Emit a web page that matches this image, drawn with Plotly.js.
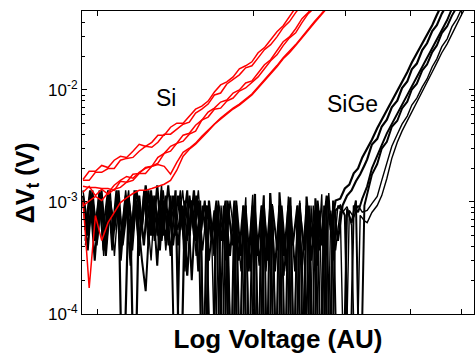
<!DOCTYPE html>
<html>
<head>
<meta charset="utf-8">
<script src="https://cdn.plot.ly/plotly-3.0.1.min.js"></script>
<style>html,body{margin:0;padding:0;background:#fff;}#chart{width:475px;height:356px;}</style>
</head>
<body>
<div id="chart"></div>
<script>
// x values (log voltage, arbitrary units) for the noise floor of the SiGe curves (two sampling grids)
var floorXA = [0.94,0.96,0.98,1.00,1.02,1.04,1.06,1.08,1.10,1.12,1.15,1.17,1.19,1.22,1.24,1.27,1.29,1.32,1.34,1.37,
  1.40,1.43,1.46,1.49,1.52,1.55,1.58,1.61,1.64,1.68,1.71,1.75,1.78,1.82,1.85,1.89,1.93,1.97,2.01,2.05,
  2.09,2.13,2.17,2.22,2.26,2.31,2.35,2.40,2.45,2.50,2.55,2.60,2.65,2.70,2.76,2.81,2.87,2.93,2.99,3.05,
  3.11,3.17,3.23];
var floorXB = [0.95,0.97,0.99,1.01,1.03,1.05,1.07,1.09,1.11,1.135,1.16,1.18,1.205,1.23,1.255,1.28,1.305,1.33,1.355,1.385,
  1.415,1.445,1.475,1.505,1.535,1.565,1.595,1.625,1.66,1.695,1.73,1.765,1.80,1.835,1.87,1.91,1.95,1.99,2.03,2.07,
  2.11,2.15,2.195,2.24,2.285,2.33,2.375,2.425,2.475,2.525,2.575,2.625,2.675,2.73,2.785,2.84,2.90,2.96,3.02,3.08,
  3.14,3.20,3.26];
// x values for the rising part of the SiGe curves
var riseX = [3.30,3.37,3.45,3.52,3.60,3.68,3.77,3.85,3.94,4.02,4.11,4.21,4.30,4.40,4.49,4.59,4.70,4.80,4.91,5.02,5.13,5.25];

// SiGe (black) curves: noise floor
var sige1Floor = [1.14e-3,5.0e-4,1.03e-3,5.6e-4,1.27e-3,4.1e-4,9.3e-4,6.2e-4,1.14e-3,1e-5,
  1.03e-3,5.6e-4,1.27e-3,6.2e-4,1.41e-3,5.0e-4,1.14e-3,3.7e-4,1.03e-3,5.6e-4,
  1.14e-3,4.1e-4,9.3e-4,2.2e-4,1.03e-3,4.5e-4,8.4e-4,1e-5,1.03e-3,3.3e-4,
  9.3e-4,1e-5,1.03e-3,4.1e-4,9.3e-4,1e-5,8.4e-4,2.4e-4,1.18e-3,1e-5,
  9.3e-4,3.0e-4,8.4e-4,1e-5,9.3e-4,2.7e-4,1.10e-3,1e-5,8.4e-4,3.7e-4,
  9.3e-4,1e-5,1.03e-3,4.1e-4,1.14e-3,5.6e-4,1.03e-3,
  1.07e-3,1.32e-3,1.43e-3,1.80e-3,1.99e-3,2.50e-3];
var sige2Floor = [5.6e-4,1.27e-3,4.5e-4,1.14e-3,3.7e-4,1.03e-3,5.0e-4,1.27e-3,3.0e-4,1.03e-3,
  5.6e-4,1e-5,1.14e-3,4.1e-4,1.27e-3,5.0e-4,1.41e-3,4.5e-4,1.14e-3,3.3e-4,
  1.27e-3,1e-5,1.03e-3,5.0e-4,1.27e-3,2.4e-4,9.3e-4,4.1e-4,1e-5,9.3e-4,
  4.5e-4,1.03e-3,1e-5,8.4e-4,3.0e-4,9.3e-4,1e-5,8.4e-4,3.3e-4,9.3e-4,
  1e-5,1.20e-3,2.4e-4,9.3e-4,1e-5,8.4e-4,4.1e-4,9.3e-4,1e-5,1.12e-3,
  3.0e-4,8.4e-4,1e-5,9.3e-4,1e-5,1.03e-3,4.5e-4,
  9.3e-4,1.14e-3,1.27e-3,1.53e-3,1.77e-3,2.12e-3];
var sige3Floor = [1.03e-3,3.7e-4,1.27e-3,4.5e-4,1.14e-3,3.3e-4,1.03e-3,5.6e-4,1.27e-3,4.1e-4,
  1.14e-3,5.0e-4,1.03e-3,3.0e-4,1.6e-4,1.27e-3,4.5e-4,1.03e-3,5.0e-4,1.41e-3,
  4.1e-4,1.14e-3,5.6e-4,1.27e-3,2.0e-4,1.14e-3,5.0e-4,1.03e-3,3.0e-4,8.4e-4,
  1e-5,9.3e-4,4.1e-4,1e-5,1.03e-3,3.3e-4,9.3e-4,1e-5,8.4e-4,2.7e-4,
  1.15e-3,1e-5,9.3e-4,3.7e-4,8.4e-4,1e-5,9.3e-4,2.4e-4,9.8e-4,1e-5,
  8.4e-4,4.1e-4,9.3e-4,1e-5,9.3e-4,1e-5,8.4e-4,
  9.3e-4,7.6e-4,1e-5,9.3e-4,8.1e-4,1.07e-3];
var sige4Floor = [4.5e-4,1.14e-3,3.0e-4,1.03e-3,6.2e-4,1.27e-3,3.7e-4,1.03e-3,4.5e-4,1.14e-3,
  2.7e-4,1.27e-3,4.1e-4,1.14e-3,5.6e-4,1.03e-3,2.7e-4,1.27e-3,4.5e-4,1.14e-3,
  1e-5,1.03e-3,3.7e-4,1.14e-3,5.0e-4,1.03e-3,1e-5,9.3e-4,4.5e-4,1.03e-3,
  1e-5,8.4e-4,3.3e-4,1.03e-3,1e-5,9.3e-4,2.4e-4,9.3e-4,1e-5,8.4e-4,
  3.0e-4,9.3e-4,1e-5,1.22e-3,3.3e-4,9.3e-4,1e-5,8.4e-4,2.7e-4,9.3e-4,
  1e-5,1.08e-3,3.7e-4,8.4e-4,1e-5,9.3e-4,1e-5,
  1e-5,8.7e-4,6.5e-4,1.03e-3,1e-5,9.3e-4];
var sige5Floor = [1.27e-3,6.2e-4,9.3e-4,4.1e-4,1.03e-3,5.0e-4,1.27e-3,3.3e-4,1.03e-3,5.0e-4,
  1.27e-3,3.7e-4,1.03e-3,5.6e-4,1.14e-3,3.0e-4,1.03e-3,5.6e-4,1.27e-3,4.1e-4,
  1.03e-3,5.6e-4,1.27e-3,4.5e-4,1.03e-3,3.3e-4,1.03e-3,1e-5,9.3e-4,3.7e-4,
  1.03e-3,4.5e-4,9.3e-4,1e-5,8.4e-4,2.4e-4,1.10e-3,1e-5,9.3e-4,1e-5,
  8.4e-4,3.7e-4,9.6e-4,1e-5,8.4e-4,2.4e-4,9.3e-4,1e-5,1.03e-3,3.0e-4,
  1e-5,9.3e-4,2.7e-4,1.17e-3,1e-5,8.4e-4,3.7e-4,
  8.4e-4,1e-5,8.4e-4,7.3e-4,9.3e-4,8.1e-4];
var sige6Floor = [4.1e-4,1.03e-3,5.6e-4,1.27e-3,3.3e-4,1.14e-3,4.5e-4,1.03e-3,3.7e-4,1.27e-3,
  4.5e-4,1.14e-3,3.3e-4,1.27e-3,4.1e-4,1.14e-3,5.0e-4,1.41e-3,3.7e-4,1.03e-3,
  5.0e-4,1.27e-3,2.4e-4,1.03e-3,5.6e-4,1.27e-3,3.7e-4,9.3e-4,5.0e-4,1e-5,
  9.3e-4,3.0e-4,1.03e-3,5.0e-4,1e-5,8.4e-4,3.0e-4,1.16e-3,1e-5,9.3e-4,
  2.4e-4,8.4e-4,1e-5,9.3e-4,2.2e-4,1.12e-3,1e-5,9.3e-4,3.3e-4,1e-5,
  9.3e-4,2.4e-4,8.4e-4,1e-5,1.20e-3,3.0e-4,9.3e-4,
  8.1e-4,9.1e-4,6.2e-4,1e-5,7.6e-4,6.8e-4];

// SiGe (black) curves: rising part
var sige1Rise = [0.00300,0.00360,0.00455,0.00540,0.00675,0.00800,0.00975,0.0118,0.0144,0.0176,0.0213,0.0261,0.0315,0.0378,0.0467,0.0578,0.0682];
var sige2Rise = [0.00240,0.00326,0.00366,0.00472,0.00542,0.00700,0.00802,0.0104,0.0119,0.0153,0.0172,0.0227,0.0261,0.0335,0.0378,0.0480,0.0578,0.0697];
var sige3Rise = [0.00138,0.00200,0.00262,0.00322,0.00410,0.00498,0.00605,0.00738,0.00895,0.0109,0.0130,0.0162,0.0193,0.0236,0.0285,0.0348,0.0421,0.05316,0.0602,0.0726];
var sige4Rise = [0.00119,0.00176,0.00218,0.00300,0.00344,0.00470,0.00531,0.00685,0.00786,0.0101,0.0114,0.0150,0.0169,0.0218,0.0250,0.0322,0.0371,0.04613,0.05543,0.0668];
var sige5Rise = [0.00084,0.000967,0.00112,0.00156,0.00222,0.00314,0.00403,0.00495,0.00585,0.00733,0.00847,0.01065,0.01255,0.01611,0.01895,0.02436,0.0286,0.03673,0.04332,0.05428,0.0641,0.0776];
var sige6Rise = [0.000654,0.000806,0.00093,0.00114,0.00162,0.00245,0.00341,0.00429,0.00527,0.00648,0.00780,0.00959,0.01155,0.01448,0.01747,0.0215,0.02584,0.03173,0.03909,0.0480,0.0578,0.0697];

// Si (red) curves
var siX = [0.940,0.966,0.993,1.021,1.050,1.079,1.109,1.140,1.172,1.205,1.239,1.274,1.309,1.346,1.384,1.423,1.463,1.504,1.546,1.589,
  1.634,1.680,1.727,1.775,1.825,1.876,1.929,1.983,2.038,2.096,2.154,2.215,2.277,2.341,2.406,2.474,2.543,2.615,2.688,2.763,2.841];
var si1 = [0.00159,0.00188,0.00188,0.00212,0.00203,0.00236,0.00256,0.00250,0.00284,0.00327,0.00314,0.00341,0.00395,0.00395,0.00465,0.00505,0.00505,0.00585,0.00674,0.00718,
  0.00796,0.00959,0.0111,0.0118,0.01309,0.01545,0.01645,0.01784,0.0215,0.02385,0.0281,0.0331,0.0375,0.0452,0.0543,0.0628];
var si2 = [0.00156,0.00156,0.00184,0.00184,0.00199,0.00199,0.00236,0.00245,0.00250,0.00284,0.00314,0.00308,0.00341,0.00403,0.00403,0.00446,0.00495,0.00516,0.00622,0.00674,
  0.00748,0.00902,0.00939,0.01131,0.01255,0.01365,0.01578,0.01645,0.01935,0.0229,0.0254,0.0298,0.0360,0.0408,0.0490,0.0590,0.0682];
var si3 = [0.00138,0.00135,0.00135,0.00132,0.00132,0.00127,0.00153,0.00150,0.00177,0.00180,0.00203,0.00208,0.00250,0.00272,0.00314,0.00334,0.00395,0.00411,0.00485,0.00538,
  0.00635,0.00688,0.00780,0.00813,0.00939,0.0100,0.01155,0.01205,0.01418,0.0168,0.0186,0.02243,0.02695,0.0298,0.0352,0.0433,0.0490,0.0590];
var si4 = [0.00122,0.00138,0.00114,0.00130,0.00117,0.00130,0.00135,0.00150,0.00156,0.00180,0.00180,0.00208,0.00222,0.00272,0.00284,0.00334,0.00349,0.00403,0.00429,0.00538,
  0.00573,0.00674,0.00688,0.00796,0.00847,0.00979,0.01042,0.0118,0.01309,0.01545,0.01822,0.0206,0.02487,0.0292,0.0324,0.0399,0.0480,0.0543,0.0654];
var si5 = [0.00093,0.00103,0.00112,0.00103,0.00122,0.00141,0.00156,0.00169,0.00163,0.00184,0.00200,0.00208,0.00216,0.00208,0.00177,0.00226,0.00278,0.00302,0.00335,0.00387,
  0.00438,0.00505,0.00561,0.00622,0.00690,0.00748,0.00830,0.00921,0.01065,0.0123,0.01422,0.0165,0.0194,0.0220,0.0254,0.0298,0.0352,0.0408,0.0471,0.0544,0.0641];
var si6 = [0.00103,0.000171,0.000757,0.000452,0.000654,0.000806,0.000988,0.00109,0.00119,0.00127,0.00127,0.00132,0.00138,0.00144,0.00156,0.00192,0.00256,0.00296,0.00328,0.00379,
  0.00429,0.00495,0.00549,0.00609,0.00676,0.00733,0.00813,0.00902,0.01042,0.01205,0.01394,0.01612,0.0190,0.0215,0.0249,0.0293,0.0345,0.0399,0.0461,0.0533,0.0628];

var yMajor = [1e-4, 1e-3, 1e-2];
var yMajorText = ['10<sup>-4</sup>', '10<sup>-3</sup>', '10<sup>-2</sup>'];
var yMinor = [2e-4,3e-4,4e-4,5e-4,6e-4,7e-4,8e-4,9e-4,2e-3,3e-3,4e-3,5e-3,6e-3,7e-3,8e-3,9e-3,2e-2,3e-2,4e-2,5e-2];
var xTicks = [1, 2, 3, 4, 5];

var sigeFloors = [sige1Floor, sige2Floor, sige3Floor, sige4Floor, sige5Floor, sige6Floor];
var sigeGrids = [floorXA, floorXB, floorXA, floorXB, floorXA, floorXB];
var sigeRises = [sige1Rise, sige2Rise, sige3Rise, sige4Rise, sige5Rise, sige6Rise];
var sigeWidths = [2.2, 2.2, 2, 2, 1.4, 1.4];
var siCurves = [si1, si2, si3, si4, si5, si6];

var traces = [];
for (var n = 0; n < sigeFloors.length; n++) {
  var rise = sigeRises[n];
  traces.push({
    type: 'scatter', mode: 'lines',
    x: sigeGrids[n].concat(riseX.slice(0, rise.length)),
    y: sigeFloors[n].concat(rise),
    line: {color: '#000000', width: sigeWidths[n]},
    hoverinfo: 'skip', showlegend: false
  });
}
for (var m = 0; m < siCurves.length; m++) {
  traces.push({
    type: 'scatter', mode: 'lines',
    x: siX.slice(0, siCurves[m].length),
    y: siCurves[m],
    line: {color: '#ff0000', width: 1.5},
    hoverinfo: 'skip', showlegend: false
  });
}

var font = 'Liberation Sans, Arial, Helvetica, sans-serif';
var layout = {
  width: 475, height: 356,
  margin: {l: 82, r: 1, t: 11, b: 42},
  paper_bgcolor: '#ffffff', plot_bgcolor: '#ffffff',
  font: {family: font, color: '#000000'},
  showlegend: false,
  xaxis: {
    type: 'log', range: [-0.0288, 0.7236],
    tickmode: 'array', tickvals: xTicks, showticklabels: false,
    ticks: 'inside', ticklen: 5, tickwidth: 1, tickcolor: '#000',
    showline: true, linecolor: '#000', linewidth: 1, mirror: 'allticks',
    showgrid: false, zeroline: false,
    title: {text: '<b>Log Voltage (AU)</b>', font: {size: 26, family: font}, standoff: 15}
  },
  yaxis: {
    type: 'log', range: [-4, -1.295],
    tickmode: 'array', tickvals: yMajor, ticktext: yMajorText,
    tickfont: {size: 17, family: font},
    ticks: 'inside', ticklen: 5, tickwidth: 1, tickcolor: '#000',
    minor: {tickmode: 'array', tickvals: yMinor, ticks: 'inside', ticklen: 3, tickwidth: 1, tickcolor: '#000', showgrid: false},
    showline: true, linecolor: '#000', linewidth: 1, mirror: 'allticks',
    showgrid: false, zeroline: false
  },
  annotations: [
    {xref: 'paper', yref: 'paper', x: -0.140, y: 0.432, xanchor: 'center', yanchor: 'middle', textangle: -90,
     text: '<b>ΔV<sub>t</sub> (V)</b>', showarrow: false, font: {size: 25, family: font, color: '#000'}},
    {xref: 'paper', yref: 'paper', x: 0.214, y: 0.713, xanchor: 'center', yanchor: 'middle', text: 'Si', showarrow: false, font: {size: 23, family: font, color: '#000'}},
    {xref: 'paper', yref: 'paper', x: 0.691, y: 0.693, xanchor: 'center', yanchor: 'middle', text: 'SiGe', showarrow: false, font: {size: 23, family: font, color: '#000'}}
  ]
};

Plotly.newPlot('chart', traces, layout, {staticPlot: true, displayModeBar: false});
</script>
</body>
</html>
